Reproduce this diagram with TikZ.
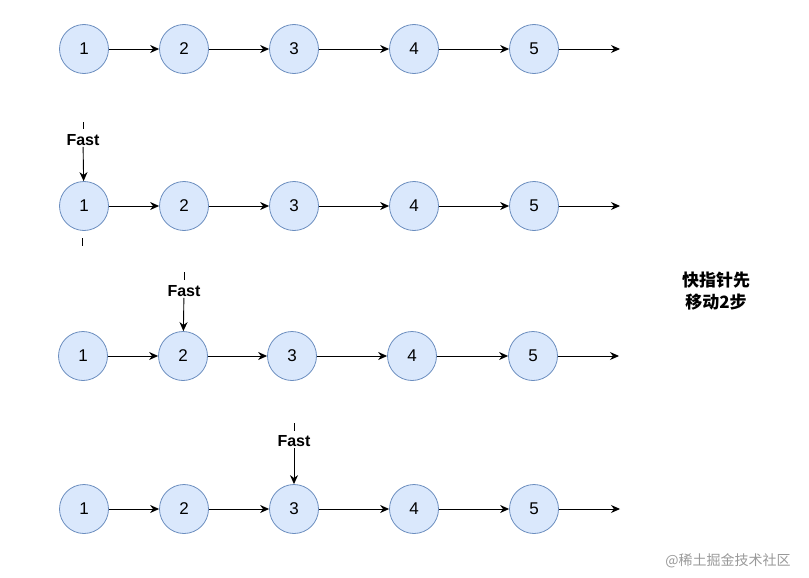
\documentclass[tikz,border=0pt]{standalone}
\usepackage{fontspec}
\setmainfont{Liberation Sans}
\newfontfamily\cjk{Noto Sans CJK SC}
\usetikzlibrary{arrows.meta}

\definecolor{nodefill}{HTML}{DAE8FC}
\definecolor{nodeline}{HTML}{6C8EBF}

\tikzset{
    elem/.style={circle, draw=nodeline, fill=nodefill, line width=0.8pt, minimum size=49pt, inner sep=0pt, font=\fontsize{17}{17}\selectfont},
    link/.style={-{Stealth[length=9pt,width=8pt]}, line width=0.9pt},
    ptr/.style={font=\bfseries\fontsize{16}{16}\selectfont, inner sep=1pt},
    tick/.style={line width=0.6pt}
}

\begin{document}
\begin{tikzpicture}[x=1pt, y=-1pt]
    \useasboundingbox (0,0) rectangle (809,578);

    % first list
    \node[elem] (a1) at (84,49) {1};
    \node[elem] (a2) at (184,49) {2};
    \node[elem] (a3) at (294,49) {3};
    \node[elem] (a4) at (414,49) {4};
    \node[elem] (a5) at (534,49) {5};
    \coordinate (aend) at (620,49);
    \draw[link] (a1) -- (a2);
    \draw[link] (a2) -- (a3);
    \draw[link] (a3) -- (a4);
    \draw[link] (a4) -- (a5);
    \draw[link] (a5) -- (aend);

    % fast on 1
    \node[elem] (b1) at (84,206) {1};
    \node[elem] (b2) at (184,206) {2};
    \node[elem] (b3) at (294,206) {3};
    \node[elem] (b4) at (414,206) {4};
    \node[elem] (b5) at (534,206) {5};
    \coordinate (bend) at (620,206);
    \draw[link] (b1) -- (b2);
    \draw[link] (b2) -- (b3);
    \draw[link] (b3) -- (b4);
    \draw[link] (b4) -- (b5);
    \draw[link] (b5) -- (bend);
    \node[ptr] (bfast) at (83,140) {Fast};
    \draw[link] (bfast) -- (b1);
    \draw[tick] (83,122) -- (83,129);
    \draw[tick] (82,238) -- (82,246);

    % fast on 2
    \node[elem] (c1) at (83,356) {1};
    \node[elem] (c2) at (183,356) {2};
    \node[elem] (c3) at (292,356) {3};
    \node[elem] (c4) at (412,356) {4};
    \node[elem] (c5) at (533,356) {5};
    \coordinate (cend) at (619,356);
    \draw[link] (c1) -- (c2);
    \draw[link] (c2) -- (c3);
    \draw[link] (c3) -- (c4);
    \draw[link] (c4) -- (c5);
    \draw[link] (c5) -- (cend);
    \node[ptr] (cfast) at (184,291) {Fast};
    \draw[link] (cfast) -- (c2);
    \draw[tick] (184,272) -- (184,280);

    % fast on 3
    \node[elem] (d1) at (84,509) {1};
    \node[elem] (d2) at (184,509) {2};
    \node[elem] (d3) at (294,509) {3};
    \node[elem] (d4) at (414,509) {4};
    \node[elem] (d5) at (534,509) {5};
    \coordinate (dend) at (620,509);
    \draw[link] (d1) -- (d2);
    \draw[link] (d2) -- (d3);
    \draw[link] (d3) -- (d4);
    \draw[link] (d4) -- (d5);
    \draw[link] (d5) -- (dend);
    \node[ptr] (dfast) at (294,441) {Fast};
    \draw[link] (dfast) -- (d3);
    \draw[tick] (294,423) -- (294,431);

    \node[align=center, font=\cjk\bfseries\fontsize{17}{22}\selectfont] (note) at (716,291) {快指针先\\移动2步};
    \node[text=black!40, font=\cjk\fontsize{14}{14}\selectfont] (mark) at (728,561) {@稀土掘金技术社区};
\end{tikzpicture}
\end{document}
